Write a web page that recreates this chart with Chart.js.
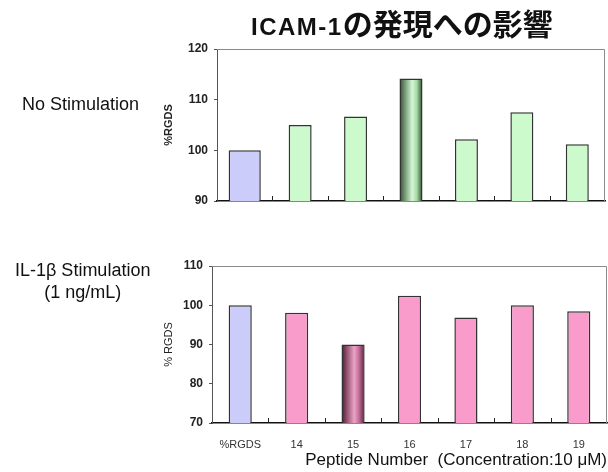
<!DOCTYPE html>
<html>
<head>
<meta charset="utf-8">
<script src="https://cdn.jsdelivr.net/npm/chart.js@4.4.0/dist/chart.umd.min.js"></script>
<style>
body { margin:0; width:608px; height:472px; background:#fff; position:relative; overflow:hidden; font-family:"Liberation Sans", Arial, sans-serif; }
canvas { position:absolute; left:0; }
.lbl { position:absolute; color:#111; white-space:nowrap; }
</style>
</head>
<body>
<canvas id="top" width="608" height="230" style="top:0"></canvas>
<canvas id="bottom" width="608" height="242" style="top:230px"></canvas>
<div class="lbl" style="left:251px;top:5px;line-height:34px;">
  <span style="font-weight:bold;font-size:24px;letter-spacing:1.5px;">ICAM-1</span><span style="font-family:'Noto Sans CJK JP';font-weight:bold;font-size:30px;">の発現への影響</span>
</div>
<div class="lbl" style="left:22px;top:94px;font-size:18px;">No Stimulation</div>
<div class="lbl" style="left:15px;top:259px;font-size:18px;text-align:center;line-height:22px;">IL-1β Stimulation<br>(1 ng/mL)</div>
<script>
var labels = ['%RGDS', '14', '15', '16', '17', '18', '19']
var noStimValues = [100, 105, 106.7, 114.2, 102.2, 107.5, 101.2]
var il1bValues = [100, 98.1, 90, 102.4, 96.9, 100, 98.5]
var topRange = [90, 120]
var bottomRange = [70, 110]

var rgdsColor = '#ccccfa'
var greenColor = '#ccfacc'
var pinkColor = '#fa9ccb'

// gradient for the highlighted bar, built from the x scale
function barFill(base, stops, hlIndex, pct){
	return function(ctx){
		if (ctx.dataIndex !== hlIndex) return base
		var chart = ctx.chart
		var xs = chart.scales.x
		if (!chart.chartArea || !xs) return base
		var cx = xs.getPixelForValue(ctx.dataIndex)
		var w = xs.width / labels.length * pct
		var g = chart.ctx.createLinearGradient(cx - w/2, 0, cx + w/2, 0)
		stops.forEach(function(s){ g.addColorStop(s[0], s[1]) })
		return g
	}
}

// plot frame and small tick marks between categories
var framePlugin = {
	id: 'frame',
	beforeDatasetsDraw: function(chart){
		var a = chart.chartArea, c = chart.ctx
		c.save()
		c.strokeStyle = '#8a8a8a'
		c.lineWidth = 1
		c.beginPath()
		c.moveTo(a.left, a.top + 0.5)
		c.lineTo(a.right - 0.5, a.top + 0.5)
		c.lineTo(a.right - 0.5, a.bottom)
		c.stroke()
		c.restore()
	},
	afterDatasetsDraw: function(chart){
		var a = chart.chartArea, c = chart.ctx, xs = chart.scales.x
		c.save()
		c.strokeStyle = '#222'
		c.lineWidth = 1
		for (var i = 1; i < labels.length; i++){
			var x = Math.round((xs.getPixelForValue(i - 1) + xs.getPixelForValue(i)) / 2) + 0.5
			c.beginPath()
			c.moveTo(x, a.bottom)
			c.lineTo(x, a.bottom - 5)
			c.stroke()
		}
		c.restore()
	}
}

function makeChart(id, values, range, color, stops, hlIndex, firstPct, otherPct, opts){
	var first = values.map(function(v, i){ return i === 0 ? v : null })
	var rest = values.map(function(v, i){ return i === 0 ? null : v })
	return new Chart(document.getElementById(id), {
		type: 'bar',
		data: {
			labels: labels,
			datasets: [{
				data: first,
				backgroundColor: rgdsColor,
				borderColor: '#333',
				borderWidth: 1.5,
				grouped: false,
				categoryPercentage: 1,
				barPercentage: firstPct
			}, {
				data: rest,
				backgroundColor: barFill(color, stops, hlIndex, otherPct),
				borderColor: '#333',
				borderWidth: 1.5,
				grouped: false,
				categoryPercentage: 1,
				barPercentage: otherPct
			}]
		},
		options: {
			responsive: false,
			animation: false,
			plugins: { legend: { display: false }, tooltip: { enabled: false } },
			layout: { padding: opts.padding },
			scales: {
				x: {
					grid: { display: false },
					border: { display: true, color: '#111', width: 1.5 },
					ticks: { display: opts.showX, padding: 7, color: '#333', font: { family: 'Liberation Sans', size: 11 } },
					title: opts.xTitle,
					afterFit: function(s){ s.height = opts.xHeight }
				},
				y: {
					min: range[0], max: range[1],
					grid: { drawOnChartArea: false, tickLength: 3, color: '#555' },
					border: { display: true, color: '#555', width: 1 },
					ticks: { stepSize: 10, padding: opts.yPad, color: '#222', font: { family: 'Liberation Sans', size: 12, weight: 'bold' } },
					title: { display: true, text: opts.yTitle, color: '#222', padding: { top: 12, bottom: 0 }, font: { family: 'Liberation Sans', size: 11, weight: opts.yTitleWeight } },
					afterFit: function(s){ s.width = opts.yWidth }
				}
			}
		},
		plugins: [framePlugin]
	})
}

makeChart('top', noStimValues, topRange, greenColor,
	[[0, '#2e502e'], [0.55, '#d4f8d4'], [0.75, '#a8d8a8'], [1, '#2a4a2a']], 3, 0.58, 0.415, {
	padding: { left: 150, top: 49, right: 3, bottom: 0 },
	showX: false,
	xTitle: { display: false },
	xHeight: 29,
	yWidth: 67,
	yPad: 6,
	yTitle: '%RGDS',
	yTitleWeight: 'bold'
})

makeChart('bottom', il1bValues, bottomRange, pinkColor,
	[[0, '#4a1830'], [0.55, '#eea2c6'], [0.75, '#c27098'], [1, '#5a2040']], 2, 0.41, 0.41, {
	padding: { left: 150, top: 36, right: 1, bottom: 0 },
	showX: true,
	xTitle: { display: true, text: 'Peptide Number  (Concentration:10 μM)', align: 'end', color: '#111', padding: { top: 0, bottom: 1 }, font: { family: 'Liberation Sans', size: 17 } },
	xHeight: 49,
	yWidth: 62,
	yPad: 6,
	yTitle: '% RGDS',
	yTitleWeight: 'normal'
})
</script>
</body>
</html>
